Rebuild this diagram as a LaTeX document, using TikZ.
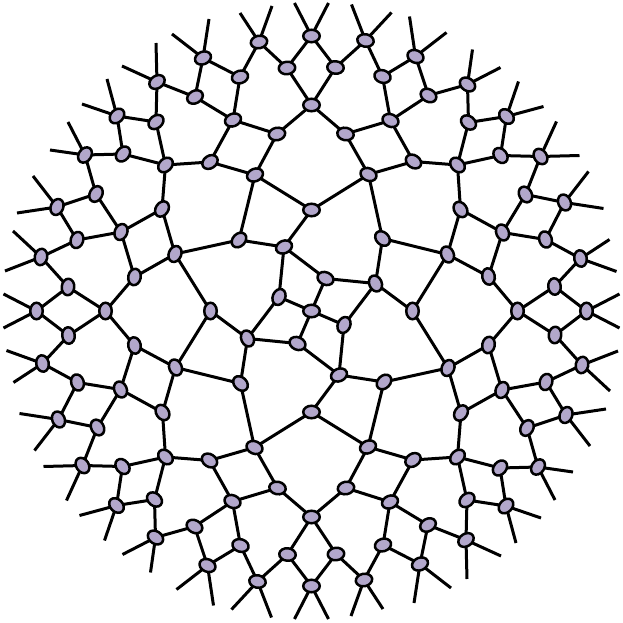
\documentclass[tikz,border=0pt]{standalone}
\usetikzlibrary{shapes.geometric}
\definecolor{nodefill}{RGB}{178,167,203}
\pgfdeclarelayer{bg}
\pgfsetlayers{bg,main}
\tikzset{
  vtx/.style={ellipse, draw=black, fill=nodefill, line width=2.5pt,
    minimum width=16.5pt, minimum height=12.5pt, inner sep=0pt, outer sep=0pt},
  link/.style={line width=3pt, draw=black},
}
\begin{document}
\begin{tikzpicture}[x=1pt,y=1pt]
\useasboundingbox (-311.5,-312) rectangle (310.5,311);
% centre vertex
\node[vtx] (z) at (0,0) {};
% four rotated copies of one quadrant
\foreach \r in {0,1,2,3}{
  \begin{scope}[rotate=-90*\r, transform shape]
    \foreach \n/\x/\y in {
      b/0/275, a/-52.5/269, d/-24.5/243, f/0/206, g/-71.5/234,
      i/-108.5/253, k/-78.5/191, l/-34.5/177, o/-101.5/149, p/-56.5/136,
      s/0/101, m1/-154.5/229, m2/-116.5/214, m3/-194.5/195, m4/-155.5/189,
      m5/-226.5/156, m6/-188.5/157, m7/-146/146, m8/-215.5/117, m9/-254.5/104,
      m10/-149.5/102, m11/-190.5/79, m12/-234.5/71, m13/-270.5/54, m14/-136.5/57,
      c/-72.5/71, h/-27.5/64, j/-32.5/14, m15/-177/34, m16/-243.5/24}{
      \pgfmathsetmacro\ang{atan2(\y,\x)+90}
      \node[vtx, rotate=\ang] (\n-\r) at (\x,\y) {};
    }
    \foreach \n/\x/\y in {
      eb1/-17/308, eb2/17/308, ea1/-71.5/298, ea2/-39.5/305,
      ei1/-102.5/292, ei2/-139.5/277, eA1/-155.5/268, eA2/-189.5/245,
      eB1/-204.5/232, eB2/-229.5/207, eC1/-243.5/189, eC2/-261.5/161,
      eD1/-278.5/135, eD2/-294.5/98, eE1/-298.5/80, eE2/-306.5/40}{
      \coordinate (\n-\r) at (\x,\y);
    }
  \end{scope}
}
\begin{pgfonlayer}{bg}
\foreach \r in {0,1,2,3}{
  \pgfmathtruncatemacro\rn{mod(\r+1,4)}
  \foreach \u/\v in {b/d, a/d, a/g, d/f, f/l, g/i, g/k, i/m2, k/m2, k/l, k/o,
      l/p, o/m7, o/p, p/s, p/c, s/h, m1/m2, m1/m4, m3/m4, m3/m6, m4/m7,
      m5/m6, m5/m8, m6/m7, m7/m10, m8/m9, m8/m11, m9/m12, m10/m11, m10/m14,
      m11/m12, m11/m15, m12/m13, m13/m16, m14/m15, m14/c, c/h, h/j}{
    \draw[link] (\u-\r) -- (\v-\r);
  }
  \foreach \u/\v in {b/m16, f/m16, f/m15, s/m14, h/j}{
    \draw[link] (\u-\r) -- (\v-\rn);
  }
  \foreach \u/\v in {b/eb1, b/eb2, a/ea1, a/ea2, i/ei1, i/ei2, m1/eA1, m1/eA2,
      m3/eB1, m3/eB2, m5/eC1, m5/eC2, m9/eD1, m9/eD2, m13/eE1, m13/eE2}{
    \draw[link] (\u-\r) -- (\v-\r);
  }
  \draw[link] (j-\r) -- (z);
}
\end{pgfonlayer}
\end{tikzpicture}
\end{document}
